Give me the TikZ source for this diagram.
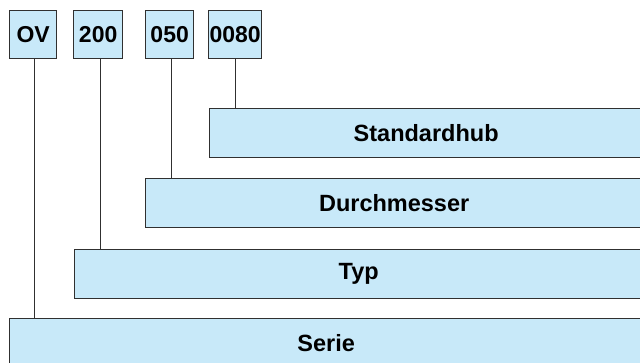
\documentclass[tikz,border=0pt]{standalone}
\usepackage{fontspec}
\setmainfont{Liberation Sans}
\definecolor{boxfill}{HTML}{C8E9F9}
\definecolor{edge}{HTML}{303030}
\begin{document}
\begin{tikzpicture}[x=1pt,y=-1pt,
  codebox/.style={draw=edge, line width=1.3pt, fill=boxfill, anchor=north west, inner sep=0pt, minimum height=48pt, font=\fontsize{23}{25}\selectfont\bfseries},
  bar/.style={draw=edge, line width=1.3pt, fill=boxfill, anchor=north west, inner sep=0pt, minimum height=49pt, font=\fontsize{23.5}{25}\selectfont\bfseries},
  link/.style={draw=edge, line width=1.3pt}]
\useasboundingbox (0,0) rectangle (640,362);
\clip (0,0) rectangle (640,362);
\node[codebox, minimum width=47pt] (ov) at (9,10) {OV};
\node[codebox, minimum width=49pt] (typc) at (73,10) {200};
\node[codebox, minimum width=48pt] (durc) at (145,10) {050};
\node[codebox, minimum width=53pt] (hubc) at (208,10) {0080};
\node[bar, minimum width=433pt] (hub) at (209,108) {Standardhub};
\node[bar, minimum width=497pt] (dur) at (145,178) {Durchmesser};
\node[bar, minimum width=568pt] (typ) at (74,249) {Typ};
\node[bar, minimum width=633pt] (serie) at (9,318) {Serie};
\draw[link] ([xshift=1pt]ov.south) -- ([xshift=1pt]ov.south |- serie.north);
\draw[link] ([xshift=2pt]typc.south) -- ([xshift=2pt]typc.south |- typ.north);
\draw[link] ([xshift=2pt]durc.south) -- ([xshift=2pt]durc.south |- dur.north);
\draw[link] (hubc.south) -- (hubc.south |- hub.north);
\end{tikzpicture}
\end{document}
